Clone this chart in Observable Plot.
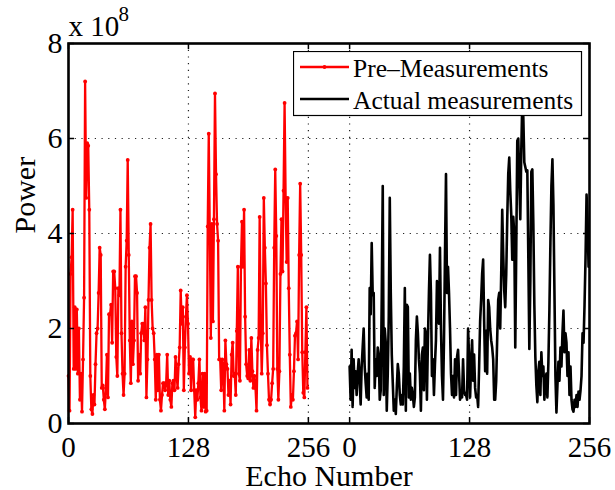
<!DOCTYPE html>
<html><head><meta charset="utf-8">
<script src="https://cdn.jsdelivr.net/npm/d3@7"></script>
<script src="https://cdn.jsdelivr.net/npm/@observablehq/plot@0.6"></script>
<style>
body{margin:0;background:#fff;}
#chart{position:relative;width:615px;height:490px;font-family:"Liberation Serif","Times New Roman",serif;}
#legend{position:absolute;left:293px;top:51px;}
</style></head><body><div id="chart"></div>
<script>
// Power values in units of 10^8
const preMeasurements = [
 1.0,0.27,3.15,3.5,4.5,1.15,2.45,1.15,2.4,1.05,2.0,0.5,1.05,0.25,1.35,2.65,7.2,4.75,5.9,5.85,4.5,1.0,0.3,0.2,0.6,0.4,1.25,1.9,2.0,2.75,3.7,3.55,0.75,0.8,0.5,0.3,0.75,1.45,0.55,2.3,2.3,2.5,1.7,3.2,3.2,2.85,1.4,1.0,2.85,2.7,4.5,1.9,1.05,
 0.6,1.05,3.3,3.85,5.55,3.55,1.75,0.85,2.15,1.25,1.75,3.1,3.1,2.75,0.9,1.45,1.05,1.9,2.1,2.1,1.75,2.45,0.55,1.35,2.6,3.7,4.2,2.6,2.0,1.9,1.35,0.5,1.45,0.7,1.45,0.5,0.27,0.6,0.85,0.85,0.7,0.85,1.45,0.6,0.9,0.5,0.35,0.85,0.9,0.7,1.4,1.05,0.75,1.25,1.6,2.8,2.1,2.45,0.7,1.6,
 2.25,2.7,2.1,1.05,1.4,0.7,1.35,1.35,0.7,0.13,0.7,0.5,0.85,1.35,0.55,0.27,1.05,0.35,1.05,0.25,0.27,4.15,6.1,4.05,1.8,4.2,2.15,4.3,6.95,5.25,4.2,3.85,1.35,1.35,0.7,1.35,1.2,0.27,1.75,1.25,1.15,0.6,0.9,0.4,1.45,1.7,1.0,1.05,0.6,1.95,3.3,1.05,0.9,3.3,4.25,3.3,4.5,
 2.25,1.25,1.0,0.95,1.55,0.9,1.8,1.1,0.75,1.0,0.75,0.27,1.55,1.8,4.35,2.1,1.05,1.9,4.75,3.7,2.95,1.65,1.05,0.5,0.4,0.5,0.85,1.15,3.7,5.35,3.95,1.15,0.5,1.1,3.15,4.3,3.2,4.9,6.75,4.75,3.4,4.75,2.85,1.45,0.35,0.6,0.5,1.1,1.85,1.9,2.15,1.35,3.55,5.05,3.55,1.5,0.65,0.55,1.5,2.45,0.75
];
const actualMeasurements = [
 1.2,0.5,1.55,0.35,1.35,0.75,1.1,0.6,1.05,1.35,0.9,0.4,1.2,1.6,2.0,1.2,0.85,0.55,1.05,0.5,2.85,2.3,3.8,2.7,2.75,0.75,1.35,1.0,1.6,1.45,0.5,0.7,2.65,5.0,0.6,2.0,1.7,0.27,1.05,2.25,4.75,2.75,1.45,0.85,0.27,0.5,0.2,0.75,1.25,1.05,0.6,0.4,0.6,0.4,1.2,2.85,0.27,2.5,2.45,
 0.55,1.05,0.5,0.75,0.6,0.35,0.55,1.75,2.25,1.9,1.35,1.05,0.27,1.45,1.6,0.7,2.0,1.9,0.5,1.75,2.75,3.55,2.75,1.0,1.35,0.6,1.25,1.75,3.0,2.25,2.1,3.7,2.0,1.0,0.5,1.75,3.55,5.25,2.75,3.3,2.75,2.0,1.05,0.6,1.0,0.55,1.35,0.6,1.4,1.55,1.05,0.5,0.6,0.55,1.35,0.7,0.6,
 0.6,0.5,2.0,1.4,0.55,1.25,1.75,0.9,1.45,0.75,0.55,0.6,0.35,1.2,2.15,2.6,3.15,3.45,2.15,1.1,1.95,1.05,2.6,2.45,2.0,1.75,1.6,1.35,0.5,0.5,0.9,1.8,2.6,2.75,2.0,3.15,4.5,3.55,2.8,2.45,3.15,4.3,5.25,5.6,4.9,4.4,3.45,4.35,4.0,1.6,3.7,5.95,6.0,5.1,4.3,5.75,6.8,6.45,5.5,
 5.4,5.3,5.33,3.5,1.57,3.0,5.3,5.35,4.2,2.5,1.4,0.8,0.45,1.1,1.3,0.6,1.5,1.0,1.2,0.5,0.9,1.05,0.55,1.3,2.4,3.8,5.0,5.56,4.6,2.8,1.0,0.23,0.8,1.3,0.9,1.6,1.2,1.9,2.38,1.5,1.9,1.7,1.0,1.5,0.6,1.2,0.5,0.3,0.25,0.5,0.35,0.6,0.35,0.67,0.5,0.7,1.0,1.9,1.7,2.5,3.5,4.82,4.3,3.3
];
const seriesNames = ["Pre\u2013Measurements", "Actual measurements"];
const seriesColors = ["#ff0000", "#000000"];
const echoSpan = 255;        // echoes per block
const blockOffset = 300;     // axis position where the second block starts
const xTickValues = [0, 128, 256, 300, 428, 556];
const xTickLabels = ["0", "128", "256", "0", "128", "256"];
const xGridValues = [128, 256, 300, 428];
const yTickValues = [0, 2, 4, 6, 8];
const yGridValues = [2, 4, 6];

const pre = preMeasurements.map((v, i) => ({echo: i * echoSpan / (preMeasurements.length - 1), power: v}));
const act = actualMeasurements.map((v, i) => ({echo: blockOffset + i * echoSpan / (actualMeasurements.length - 1), power: v}));

const font = '"Liberation Serif", "Times New Roman", serif';
const plot = Plot.plot({
  width: 615, height: 490,
  marginLeft: 68, marginRight: 26, marginTop: 43, marginBottom: 67,
  style: {fontFamily: font, fontSize: "30px", background: "#fff", color: "#000", overflow: "visible"},
  x: {domain: [0, 556]},
  y: {domain: [0, 8]},
  marks: [
    Plot.ruleX(xGridValues, {x: d => d, stroke: "#222", strokeWidth: 1.2, strokeDasharray: "1.2,5.5"}),
    Plot.ruleY(yGridValues, {y: d => d, stroke: "#222", strokeWidth: 1.2, strokeDasharray: "1.2,5.5"}),
    Plot.line(pre, {x: "echo", y: "power", stroke: seriesColors[0], strokeWidth: 2.3}),
    Plot.dot(pre, {x: "echo", y: "power", r: 1.9, fill: seriesColors[0], stroke: null}),
    Plot.line(act, {x: "echo", y: "power", stroke: seriesColors[1], strokeWidth: 2.6}),
    Plot.tickX(xTickValues, {x: d => d, insetTop: 374, stroke: "#000", strokeWidth: 1.5}),
    Plot.tickX(xTickValues, {x: d => d, insetBottom: 374, stroke: "#000", strokeWidth: 1.5}),
    Plot.tickY(yTickValues, {y: d => d, insetRight: 515, stroke: "#000", strokeWidth: 1.5}),
    Plot.tickY(yTickValues, {y: d => d, insetLeft: 515, stroke: "#000", strokeWidth: 1.5}),
    Plot.frame({stroke: "#000", strokeWidth: 2.6}),
    Plot.axisX(xTickValues, {tickSize: 0, tickPadding: 13, label: null, fontSize: 29,
      tickFormat: d => xTickLabels[xTickValues.indexOf(d)]}),
    Plot.axisY(yTickValues, {tickSize: 0, tickPadding: 6, label: null, fontSize: 30}),
    Plot.text(["Echo Number"], {text: d => d, frameAnchor: "bottom", dy: 62, lineAnchor: "bottom", fontSize: 30}),
    Plot.text(["Power"], {text: d => d, frameAnchor: "left", dx: -43, rotate: -90, fontSize: 30}),
    Plot.text(["x 10"], {text: d => d, frameAnchor: "top-left", dy: -8, lineAnchor: "bottom", textAnchor: "start", fontSize: 29}),
    Plot.text(["8"], {text: d => d, frameAnchor: "top-left", dx: 50, dy: -23, lineAnchor: "bottom", textAnchor: "start", fontSize: 21})
  ]
});
const chart = document.getElementById("chart");
chart.appendChild(plot);

// legend (drawn over the plot, MATLAB style)
const lg = d3.select(chart).append("svg").attr("id", "legend")
  .attr("width", 290).attr("height", 66);
lg.append("rect").attr("x", 0.5).attr("y", 0.5).attr("width", 288).attr("height", 64)
  .attr("fill", "#fff").attr("stroke", "#000").attr("stroke-width", 1.2);
const rows = [16, 48];
seriesNames.forEach((name, i) => {
  lg.append("line").attr("x1", 7).attr("x2", 56).attr("y1", rows[i]).attr("y2", rows[i])
    .attr("stroke", seriesColors[i]).attr("stroke-width", i === 0 ? 2.3 : 2.6);
  if (i === 0) lg.append("circle").attr("cx", 31.5).attr("cy", rows[i]).attr("r", 1.9).attr("fill", seriesColors[i]);
  lg.append("text").attr("x", 60).attr("y", rows[i] + 10)
    .attr("font-family", font).attr("font-size", 25.5).attr("fill", "#000").text(name);
});
</script></body></html>
